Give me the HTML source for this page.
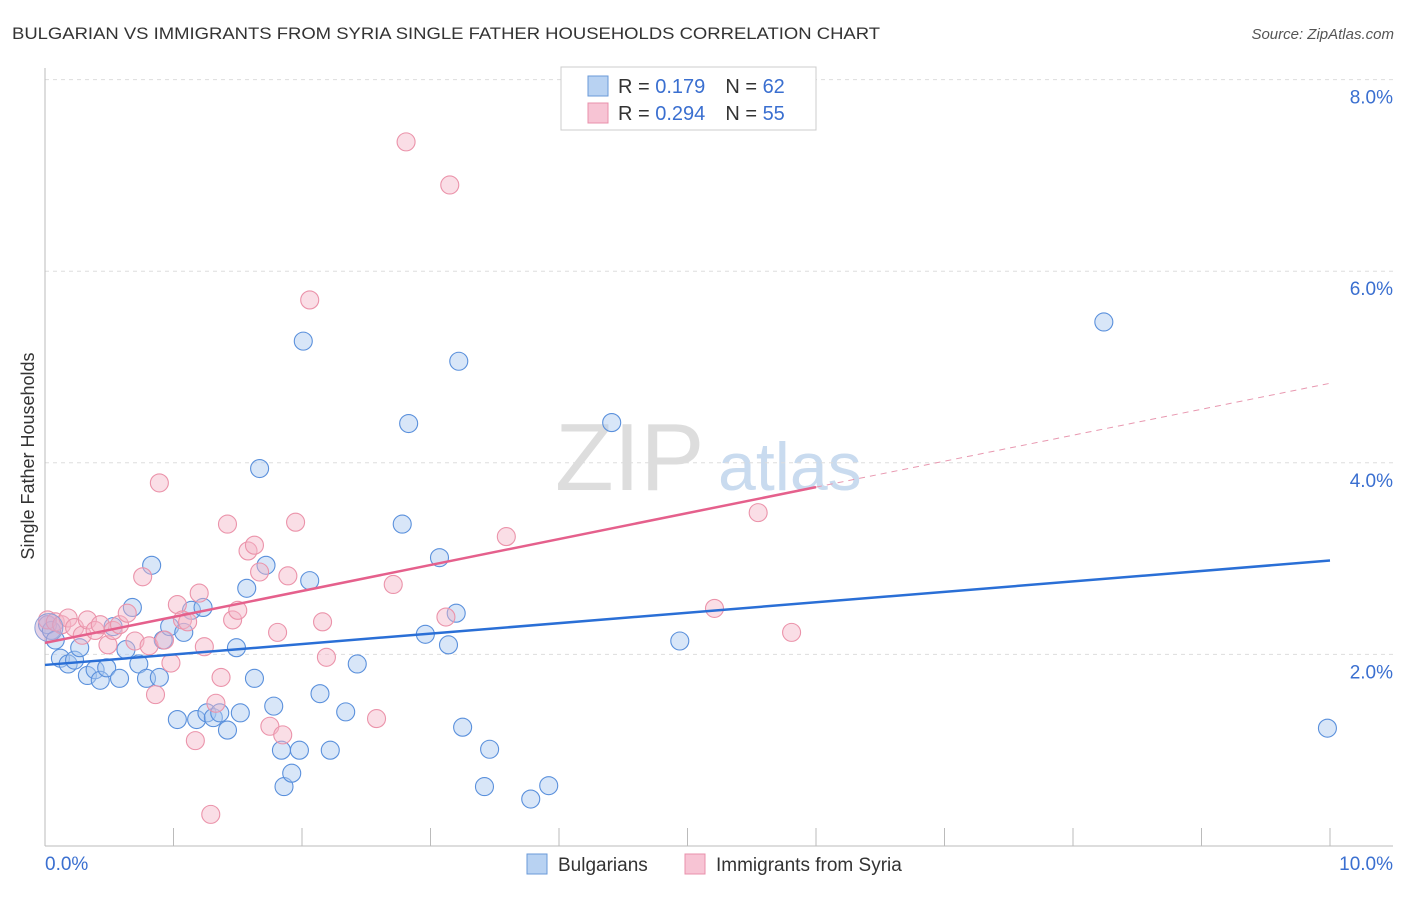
<!DOCTYPE html>
<html><head><meta charset="utf-8"><style>
body{margin:0;background:#fff;font-family:"Liberation Sans",sans-serif;}
svg text{font-family:"Liberation Sans",sans-serif;}
</style></head><body>
<svg id="c" width="1406" height="892">
<text x="12" y="39" font-size="17" fill="#333" textLength="868" lengthAdjust="spacingAndGlyphs">BULGARIAN VS IMMIGRANTS FROM SYRIA SINGLE FATHER HOUSEHOLDS CORRELATION CHART</text>
<text x="1394" y="39" font-size="15" fill="#555" font-style="italic" text-anchor="end">Source: ZipAtlas.com</text>
<text transform="translate(34,456) rotate(-90)" font-size="18" fill="#333" text-anchor="middle">Single Father Households</text>
<text x="555" y="490" font-size="96" fill="#ddd" font-family="Liberation Serif">ZIP</text>
<text x="718" y="490" font-size="68" fill="#c9dbef">atlas</text>
<g id="grid"></g><g id="pts"></g><g id="lines"></g>
<g>
<rect x="561" y="67" width="255" height="63" fill="#fff" stroke="#ccc"/>
<rect x="588" y="76" width="20" height="20" fill="#b8d2f2" stroke="#6a9ad8"/>
<text x="618" y="93" font-size="20" fill="#333">R = <tspan fill="#3a6fd0">0.179</tspan><tspan dx="20" fill="#333">N = </tspan><tspan fill="#3a6fd0">62</tspan></text>
<rect x="588" y="103" width="20" height="20" fill="#f7c4d4" stroke="#e890ab"/>
<text x="618" y="120" font-size="20" fill="#333">R = <tspan fill="#3a6fd0">0.294</tspan><tspan dx="20" fill="#333">N = </tspan><tspan fill="#3a6fd0">55</tspan></text>
</g>
<g>
<rect x="527" y="854" width="20" height="20" fill="#b8d2f2" stroke="#6a9ad8"/>
<text x="558" y="871" font-size="19" fill="#333">Bulgarians</text>
<rect x="685" y="854" width="20" height="20" fill="#f7c4d4" stroke="#e890ab"/>
<text x="716" y="871" font-size="19" fill="#333">Immigrants from Syria</text>
</g>
<text x="45" y="870" font-size="19" fill="#3a6fd0">0.0%</text>
<text x="1393" y="870" font-size="19" fill="#3a6fd0" text-anchor="end">10.0%</text>
</svg>
<script>
const yTicks=[2,4,6,8];
const yTickLabels=["2.0%","4.0%","6.0%","8.0%"];
const xTicks=[1,2,3,4,5,6,7,8,9,10];
const blueX=[0.02,0.05,0.08,0.12,0.18,0.23,0.27,0.33,0.39,0.43,0.48,0.53,0.58,0.63,0.68,0.73,0.79,0.83,0.89,0.92,0.97,1.03,1.08,1.14,1.18,1.23,1.26,1.31,1.36,1.42,1.49,1.52,1.57,1.63,1.67,1.72,1.78,1.84,1.86,1.92,1.98,2.01,2.06,2.14,2.22,2.34,2.43,2.78,2.83,2.96,3.07,3.14,3.20,3.22,3.25,3.42,3.46,3.78,3.92,4.41,4.94,8.24,9.98];
const blueY=[2.31,2.25,2.15,1.96,1.90,1.94,2.07,1.78,1.84,1.73,1.86,2.29,1.75,2.05,2.49,1.90,1.75,2.93,1.76,2.15,2.29,1.32,2.23,2.46,1.32,2.49,1.39,1.34,1.39,1.21,2.07,1.39,2.69,1.75,3.94,2.93,1.46,1.00,0.62,0.76,1.00,5.27,2.77,1.59,1.00,1.40,1.90,3.36,4.41,2.21,3.01,2.10,2.43,5.06,1.24,0.62,1.01,0.49,0.63,4.42,2.14,5.47,1.23];
const pinkX=[0.02,0.08,0.13,0.18,0.23,0.29,0.33,0.39,0.43,0.49,0.53,0.58,0.64,0.70,0.76,0.81,0.86,0.89,0.93,0.98,1.03,1.07,1.11,1.17,1.20,1.24,1.29,1.33,1.37,1.42,1.46,1.50,1.58,1.63,1.67,1.75,1.81,1.85,1.89,1.95,2.06,2.16,2.19,2.58,2.71,2.81,3.12,3.15,3.59,5.21,5.55,5.81];
const pinkY=[2.36,2.34,2.31,2.38,2.28,2.20,2.36,2.25,2.31,2.10,2.25,2.31,2.43,2.14,2.81,2.09,1.58,3.79,2.15,1.91,2.52,2.36,2.34,1.10,2.64,2.08,0.33,1.49,1.76,3.36,2.36,2.46,3.08,3.14,2.86,1.25,2.23,1.16,2.82,3.38,5.70,2.34,1.97,1.33,2.73,7.35,2.39,6.90,3.23,2.48,3.48,2.23];
const blueTrend=[1.89,2.98];
const pinkTrend=[2.12,4.83];
const pinkSolidEnd=6;
const NS="http://www.w3.org/2000/svg";
const X=v=>45+v*128.5, Y=v=>846-v*95.8;
function mk(tag,attrs,parent){const e=document.createElementNS(NS,tag);for(const k in attrs)e.setAttribute(k,attrs[k]);document.getElementById(parent).appendChild(e);return e;}
yTicks.forEach((t,i)=>{
 const g=mk('line',{x1:45,x2:1393,y1:Y(t),y2:Y(t),stroke:'#ddd','stroke-dasharray':'4,4'},'grid');
 
 
 const l=mk('text',{x:1393,y:Y(t)+24,'font-size':19,fill:'#3a6fd0','text-anchor':'end'},'grid');
 l.textContent=yTickLabels[i];
 
 
});
const ax=mk('line',{x1:45,x2:45,y1:68,y2:846,stroke:'#bbb'},'grid');


const bx=mk('line',{x1:45,x2:1393,y1:846,y2:846,stroke:'#bbb'},'grid');


xTicks.forEach(t=>{
 const k=mk('line',{x1:X(t),x2:X(t),y1:828,y2:846,stroke:'#bbb'},'grid');
 
 
});
function dots(xs,ys,fill,stroke,name){
 xs.forEach((x,i)=>{
  const c=mk('circle',{cx:X(x),cy:Y(ys[i]),r:9,fill:fill,'fill-opacity':0.45,stroke:stroke,'stroke-width':1.1},'pts');
  
  
 });
}
dots(blueX,blueY,'#a9c8ef','#5a90dc','bulgarian-point');
dots(pinkX,pinkY,'#f5b6c8','#eb93aa','syria-point');
const big=mk('circle',{cx:X(0.03),cy:Y(2.28),r:14,fill:'#c9a8d0','fill-opacity':0.5,stroke:'#8aa0d8'},'pts');


const bl=mk('line',{x1:X(0),y1:Y(blueTrend[0]),x2:X(10),y2:Y(blueTrend[1]),stroke:'#2a6fd6','stroke-width':2.5},'lines');


const pAt=v=>pinkTrend[0]+(pinkTrend[1]-pinkTrend[0])*v/10;
const pl=mk('line',{x1:X(0),y1:Y(pinkTrend[0]),x2:X(pinkSolidEnd),y2:Y(pAt(pinkSolidEnd)),stroke:'#e5608c','stroke-width':2.5},'lines');


const pd=mk('line',{x1:X(pinkSolidEnd),y1:Y(pAt(pinkSolidEnd)),x2:X(10),y2:Y(pinkTrend[1]),stroke:'#e898b0','stroke-width':1,'stroke-dasharray':'6,5'},'lines');


</script>
</body></html>
